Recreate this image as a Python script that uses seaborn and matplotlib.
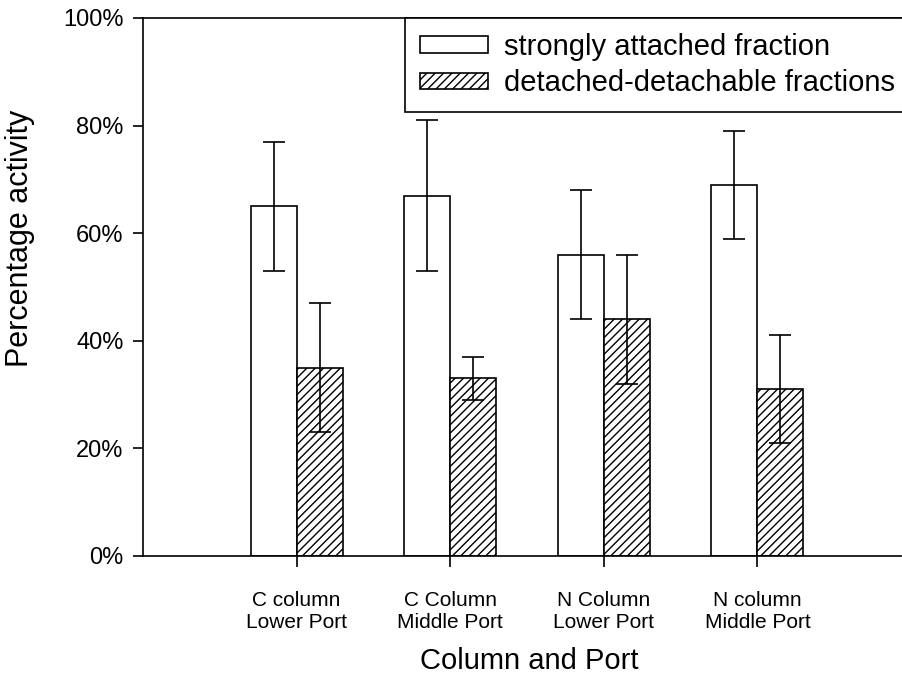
import matplotlib
matplotlib.use("Agg")
import matplotlib.pyplot as plt
import seaborn as sns
import pandas as pd
from matplotlib.ticker import FuncFormatter

categories = ["C column\nLower Port", "C Column\nMiddle Port", "N Column\nLower Port", "N column\nMiddle Port"]
series_names = ["strongly attached fraction", "detached-detachable fractions"]
attached = [65, 67, 56, 69]
attached_err = [12, 14, 12, 10]
detached = [35, 33, 44, 31]
detached_err = [12, 4, 12, 10]
yticks = [0, 20, 40, 60, 80, 100]

df = pd.DataFrame({
    "cat": categories * 2,
    "series": [series_names[0]] * 4 + [series_names[1]] * 4,
    "value": attached + detached,
})
errs = {series_names[0]: attached_err, series_names[1]: detached_err}

sns.set_style("ticks")
plt.rcParams["font.family"] = ["Liberation Sans", "DejaVu Sans"]
plt.rcParams["hatch.linewidth"] = 1.0
plt.rcParams["hatch.color"] = "black"
plt.rcParams["text.color"] = "black"
plt.rcParams["axes.labelcolor"] = "black"
plt.rcParams["xtick.color"] = "black"
plt.rcParams["ytick.color"] = "black"

fig = plt.figure(figsize=(9.02, 6.75), dpi=100)
ax = fig.add_axes([143 / 902, 119 / 675, 758 / 902, 538 / 675])

sns.barplot(data=df, x="cat", y="value", hue="series", order=categories,
            hue_order=series_names, palette=["white", "white"], width=0.6,
            edgecolor="black", linewidth=1.2, errorbar=None, legend=False,
            saturation=1, ax=ax)

for cont, name in zip(ax.containers, series_names):
    xs = [p.get_x() + p.get_width() / 2 for p in cont.patches]
    hs = [p.get_height() for p in cont.patches]
    if name == series_names[1]:
        for p in cont.patches:
            p.set_hatch("////")
    ax.errorbar(xs, hs, yerr=errs[name], fmt="none", ecolor="black",
                elinewidth=1.2, capsize=8, capthick=1.2, zorder=5)

ax.legend(handles=list(ax.containers[:2]), labels=series_names,
          loc="upper left", bbox_to_anchor=(262 / 758, 1.0), borderaxespad=0,
          fontsize=21, frameon=True, fancybox=False, edgecolor="black",
          framealpha=1, handlelength=2.35, handleheight=0.5,
          handletextpad=0.55, labelspacing=0.3, borderpad=0.5)
leg = ax.get_legend()
leg.get_frame().set_linewidth(1.2)
leg.set_zorder(10)

ax.set_xlim(-1.0, 3.935)
ax.set_ylim(0, 100)
ax.set_yticks(yticks)
ax.yaxis.set_major_formatter(FuncFormatter(lambda v, p: f"{int(v)}%"))
ax.set_xticks(range(len(categories)))
ax.set_xticklabels(categories, fontsize=15, linespacing=1.25)
ax.tick_params(axis="y", labelsize=17, length=7, width=1.2, pad=7, direction="out")
ax.tick_params(axis="x", length=8, width=1.2, pad=17, direction="out")

ax.set_xlabel("Column and Port", fontsize=21)
ax.set_ylabel("Percentage activity", fontsize=22)
ax.xaxis.set_label_coords(0.51, -0.169)
ax.yaxis.set_label_coords(-0.142, 0.591)

for s in ["left", "bottom", "top"]:
    ax.spines[s].set_visible(True)
    ax.spines[s].set_linewidth(1.2)
    ax.spines[s].set_color("black")
ax.spines["right"].set_visible(False)

fig.savefig("out.png", dpi=100)
